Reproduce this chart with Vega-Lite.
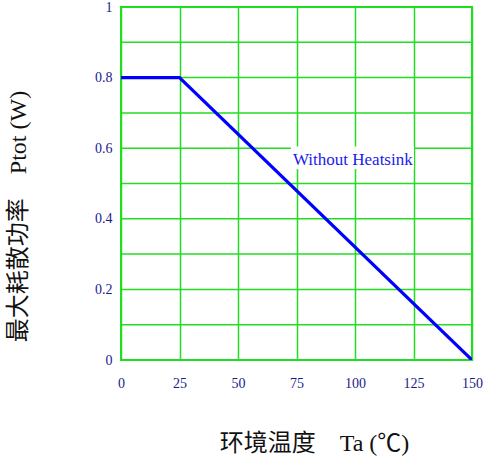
{
  "$schema": "https://vega.github.io/schema/vega-lite/v6.json",
  "autosize": "none",
  "width": 351,
  "height": 353,
  "padding": {"left": 121, "top": 7, "right": 15, "bottom": 103},
  "background": "white",
  "config": {
    "view": {"stroke": "#22dd22", "strokeWidth": 2},
    "font": "Liberation Serif"
  },
  "datasets": {
    "curve": [
      {"ta": 0, "ptot": 0.8},
      {"ta": 25, "ptot": 0.8},
      {"ta": 150, "ptot": 0}
    ],
    "ygrid": [
      {"v": 0}, {"v": 0.1}, {"v": 0.2}, {"v": 0.3}, {"v": 0.4}, {"v": 0.5},
      {"v": 0.6}, {"v": 0.7}, {"v": 0.8}, {"v": 0.9}, {"v": 1}
    ],
    "note": [
      {"x": 72.6, "x2": 125.2, "y": 0.541, "y2": 0.605, "tx": 73.5, "ty": 0.551, "label": "Without Heatsink"}
    ]
  },
  "layer": [
    {
      "data": {"name": "ygrid"},
      "mark": {"type": "rule", "color": "#22dd22", "strokeWidth": 1.5},
      "encoding": {
        "y": {
          "field": "v", "type": "quantitative",
          "scale": {"domain": [0, 1], "nice": false, "zero": false},
          "axis": {
            "values": [0, 0.2, 0.4, 0.6, 0.8, 1],
            "format": "~g",
            "grid": false,
            "domain": false, "ticks": false, "labelFlush": false,
            "labelPadding": 9, "labelFont": "Liberation Serif", "labelFontSize": 14, "labelColor": "#1a1a8c",
            "title": "最大耗散功率\u00a0\u00a0\u00a0\u00a0Ptot (W)",
            "titleFont": "Liberation Serif, Noto Sans CJK SC", "titleFontSize": 24, "titleFontWeight": "normal", "titleColor": "#111111",
            "titleX": -103, "titleY": 209, "titleBaseline": "middle", "titleAlign": "center", "titleAngle": -90
          }
        }
      }
    },
    {
      "data": {"name": "curve"},
      "mark": {"type": "line", "color": "#0000ff", "strokeWidth": 3.2, "clip": true},
      "encoding": {
        "x": {
          "field": "ta", "type": "quantitative",
          "scale": {"domain": [0, 150], "nice": false, "zero": false},
          "axis": {
            "values": [0, 25, 50, 75, 100, 125, 150],
            "grid": true, "gridColor": "#22dd22", "gridWidth": 1.5, "gridOpacity": 1,
            "domain": false, "ticks": false, "labelFlush": false,
            "labelPadding": 16, "labelFont": "Liberation Serif", "labelFontSize": 14, "labelColor": "#1a1a8c",
            "title": "环境温度\u00a0\u00a0\u00a0\u00a0Ta (℃)",
            "titleFont": "Liberation Serif, Noto Sans CJK SC", "titleFontSize": 24, "titleFontWeight": "normal", "titleColor": "#111111",
            "titleX": 193, "titleY": 83, "titleBaseline": "middle", "titleAlign": "center"
          }
        },
        "y": {
          "field": "ptot", "type": "quantitative"
        }
      }
    },
    {
      "data": {"name": "note"},
      "mark": {"type": "rect", "fill": "white", "stroke": null},
      "encoding": {
        "x": {"field": "x", "type": "quantitative"},
        "x2": {"field": "x2"},
        "y": {"field": "y", "type": "quantitative"},
        "y2": {"field": "y2"}
      }
    },
    {
      "data": {"name": "note"},
      "mark": {"type": "text", "align": "left", "baseline": "alphabetic", "font": "Liberation Serif", "fontSize": 17, "color": "#1a1aee"},
      "encoding": {
        "x": {"field": "tx", "type": "quantitative"},
        "y": {"field": "ty", "type": "quantitative"},
        "text": {"field": "label"}
      }
    }
  ]
}
